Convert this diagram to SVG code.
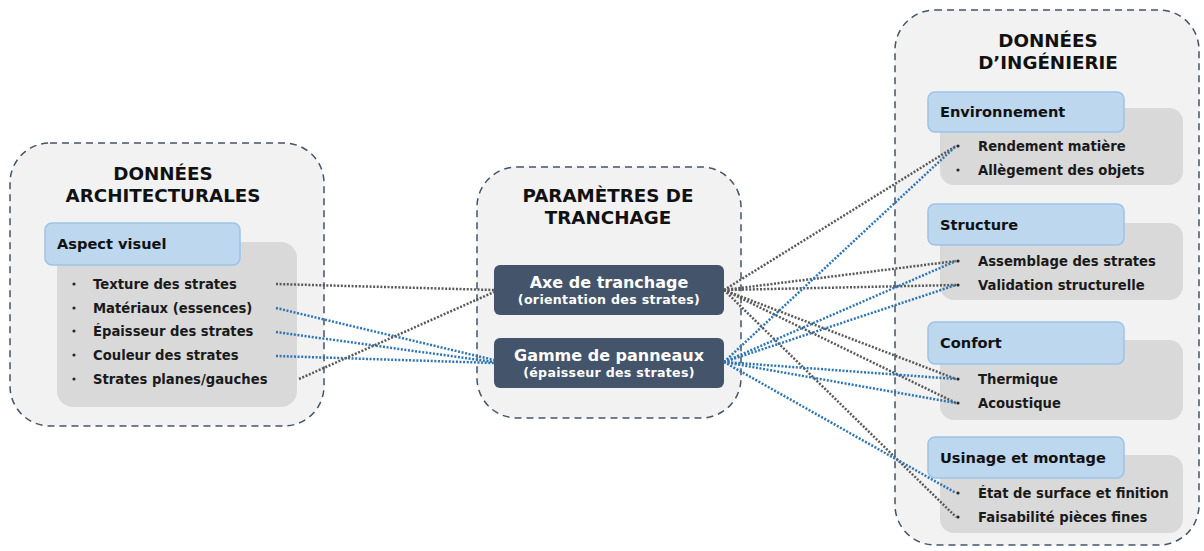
<svg xmlns="http://www.w3.org/2000/svg" width="1204" height="551" viewBox="0 0 1204 551">
<style>
.cont{fill:#f2f2f2;stroke:#44546a;stroke-width:1.5;stroke-dasharray:7 5}
.head{fill:#bdd7ee;stroke:#9dc3e6;stroke-width:1.5}
.gbox{fill:#d9d9d9}
.dark{fill:#44546a}
.dot{fill:#262626}
.title{font-family:"DejaVu Sans",Verdana,sans-serif;font-weight:bold;font-size:18.3px;fill:#111;text-anchor:middle}
.htxt{font-family:"DejaVu Sans",Verdana,sans-serif;font-weight:bold;font-size:14.6px;fill:#111}
.item{font-family:"DejaVu Sans",Verdana,sans-serif;font-weight:bold;font-size:13.2px;fill:#1a1a1a}
.w1{font-family:"DejaVu Sans",Verdana,sans-serif;font-weight:bold;font-size:16px;fill:#fff;text-anchor:middle}
.w2{font-family:"DejaVu Sans",Verdana,sans-serif;font-weight:bold;font-size:12.6px;letter-spacing:0.3px;fill:#fff;text-anchor:middle}
.g{stroke:#595959;stroke-width:2.5;stroke-dasharray:2 1.6;fill:none}
.b{stroke:#2e75b6;stroke-width:2.5;stroke-dasharray:2 1.6;fill:none}
</style>
<rect width="1204" height="551" fill="#fff"/>
<g id="architecturales">
<rect class="cont" x="10" y="143" width="314" height="283" rx="40"/>
<text class="title" x="163" y="180">DONNÉES</text>
<text class="title" x="163" y="202">ARCHITECTURALES</text>
<rect class="gbox" x="57" y="242" width="240" height="165" rx="16"/>
<rect class="head" x="45" y="223" width="195" height="42" rx="7"/>
<text class="htxt" x="57" y="249">Aspect visuel</text>
<circle class="dot" cx="74" cy="284" r="1.6"/>
<circle class="dot" cx="74" cy="308" r="1.6"/>
<circle class="dot" cx="74" cy="331" r="1.6"/>
<circle class="dot" cx="74" cy="355" r="1.6"/>
<circle class="dot" cx="74" cy="379" r="1.6"/>
<g class="item">
<text x="93" y="289">Texture des strates</text>
<text x="93" y="313">Matériaux (essences)</text>
<text x="93" y="336">Épaisseur des strates</text>
<text x="93" y="360">Couleur des strates</text>
<text x="93" y="384">Strates planes/gauches</text>
</g>
</g>
<g id="tranchage">
<rect class="cont" x="477" y="167" width="264" height="251" rx="40"/>
<text class="title" x="608" y="202">PARAMÈTRES DE</text>
<text class="title" x="608" y="224">TRANCHAGE</text>
</g>
<g id="axe">
<rect class="dark" x="494" y="265" width="230" height="50" rx="6"/>
<text class="w1" x="609" y="288">Axe de tranchage</text>
<text class="w2" x="609" y="304">(orientation des strates)</text>
</g>
<g id="gamme">
<rect class="dark" x="494" y="338" width="230" height="50" rx="6"/>
<text class="w1" x="609" y="361">Gamme de panneaux</text>
<text class="w2" x="609" y="377">(épaisseur des strates)</text>
</g>
<g id="ingenierie">
<rect class="cont" x="895" y="10" width="304" height="535" rx="40"/>
<text class="title" x="1048" y="47">DONNÉES</text>
<text class="title" x="1048" y="69">D’INGÉNIERIE</text>
</g>
<g id="environnement">
<rect class="gbox" x="940" y="108" width="243" height="77" rx="14"/>
<rect class="head" x="928" y="92" width="196" height="40" rx="7"/>
<text class="htxt" x="940" y="117">Environnement</text>
<circle class="dot" cx="958" cy="146" r="1.6"/>
<circle class="dot" cx="958" cy="170" r="1.6"/>
<g class="item">
<text x="978" y="151">Rendement matière</text>
<text x="978" y="175">Allègement des objets</text>
</g>
</g>
<g id="structure">
<rect class="gbox" x="940" y="223" width="243" height="77" rx="14"/>
<rect class="head" x="928" y="204" width="196" height="41" rx="7"/>
<text class="htxt" x="940" y="230">Structure</text>
<circle class="dot" cx="958" cy="261" r="1.6"/>
<circle class="dot" cx="958" cy="285" r="1.6"/>
<g class="item">
<text x="978" y="266">Assemblage des strates</text>
<text x="978" y="290">Validation structurelle</text>
</g>
</g>
<g id="confort">
<rect class="gbox" x="940" y="340" width="243" height="80" rx="14"/>
<rect class="head" x="928" y="322" width="196" height="42" rx="7"/>
<text class="htxt" x="940" y="348">Confort</text>
<circle class="dot" cx="958" cy="379" r="1.6"/>
<circle class="dot" cx="958" cy="403" r="1.6"/>
<g class="item">
<text x="978" y="384">Thermique</text>
<text x="978" y="408">Acoustique</text>
</g>
</g>
<g id="usinage">
<rect class="gbox" x="940" y="455" width="243" height="78" rx="14"/>
<rect class="head" x="928" y="437" width="196" height="41" rx="7"/>
<text class="htxt" x="940" y="463">Usinage et montage</text>
<circle class="dot" cx="958" cy="493" r="1.6"/>
<circle class="dot" cx="958" cy="517" r="1.6"/>
<g class="item">
<text x="978" y="498">État de surface et finition</text>
<text x="978" y="522">Faisabilité pièces fines</text>
</g>
</g>
<g id="connectors">
<line class="g" x1="276" y1="284" x2="494" y2="290"/>
<line class="b" x1="276" y1="308" x2="494" y2="360"/>
<line class="b" x1="276" y1="332" x2="494" y2="362"/>
<line class="b" x1="276" y1="356" x2="494" y2="363"/>
<line class="g" x1="299" y1="379" x2="494" y2="292"/>
<line class="g" x1="724" y1="290" x2="956" y2="146"/>
<line class="g" x1="724" y1="290" x2="956" y2="261"/>
<line class="g" x1="724" y1="290" x2="956" y2="285"/>
<line class="g" x1="724" y1="290" x2="956" y2="379"/>
<line class="g" x1="724" y1="290" x2="956" y2="403"/>
<line class="g" x1="724" y1="290" x2="956" y2="517"/>
<line class="b" x1="724" y1="362" x2="956" y2="146"/>
<line class="b" x1="724" y1="362" x2="956" y2="261"/>
<line class="b" x1="724" y1="362" x2="956" y2="285"/>
<line class="b" x1="724" y1="362" x2="956" y2="379"/>
<line class="b" x1="724" y1="362" x2="956" y2="403"/>
<line class="b" x1="724" y1="362" x2="956" y2="493"/>
</g>
</svg>
